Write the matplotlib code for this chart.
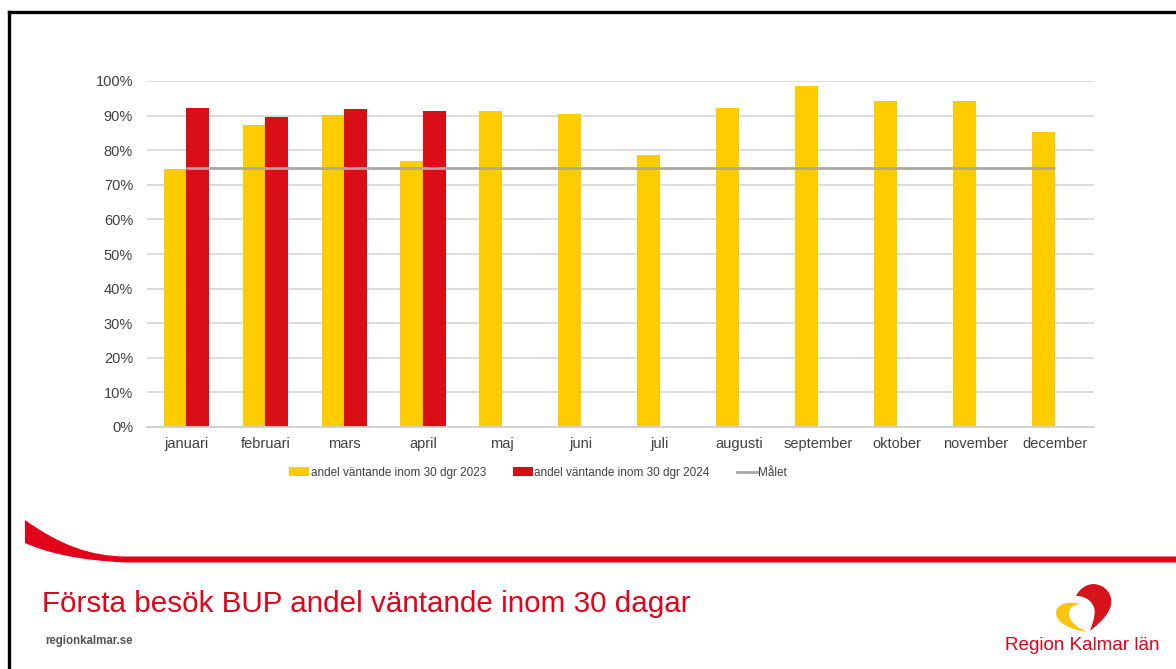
import matplotlib
matplotlib.use("Agg")
import matplotlib.pyplot as plt
import numpy as np
from matplotlib.patches import Patch, PathPatch
from matplotlib.lines import Line2D
from matplotlib.path import Path
from matplotlib.ticker import PercentFormatter

plt.rcParams['font.family'] = ['Liberation Sans', 'DejaVu Sans']

months = ["januari", "februari", "mars", "april", "maj", "juni", "juli",
          "augusti", "september", "oktober", "november", "december"]
andel_2023 = [74.5, 87.2, 90.2, 77.0, 91.3, 90.6, 78.7, 92.1, 98.6, 94.2, 94.2, 85.3]
andel_2024 = [92.3, 89.6, 91.9, 91.4]
malet = [75] * 12

label_2023 = "andel väntande inom 30 dgr 2023"
label_2024 = "andel väntande inom 30 dgr 2024"
label_malet = "Målet"
title = "Första besök BUP andel väntande inom 30 dagar"

YELLOW = "#FFCC00"
RED = "#DA0E17"
GRAY_LINE = "#AEA7A3"
GRID = "#D9D9D9"
TXT = "#404040"
BRAND_RED = "#E2001A"

W, H = 1176, 669
fig = plt.figure(figsize=(W / 100, H / 100), dpi=100)

def fx(px):
    return px / W

def fy(py):
    return 1 - py / H

def P(px, py):
    return (fx(px), fy(py))

ax = fig.add_axes([fx(147), fy(427), fx(1094) - fx(147), fy(81) - fy(427)])
x = np.arange(len(months))
bw = 0.288
ax.bar(x[:len(andel_2023)] - bw / 2, andel_2023, width=bw, color=YELLOW, zorder=2)
ax.bar(x[:len(andel_2024)] + bw / 2, andel_2024, width=bw, color=RED, zorder=2)
ax.plot(x, malet, color=GRAY_LINE, lw=2.0, zorder=3, solid_capstyle='butt')

ax.set_xlim(-0.5, len(months) - 0.5)
ax.set_ylim(0, 100)
ax.set_yticks(np.arange(0, 101, 10))
ax.yaxis.set_major_formatter(PercentFormatter(decimals=0))
ax.set_xticks(x)
ax.set_xticklabels(months)
ax.tick_params(axis='both', length=0, labelsize=10.5, colors=TXT)
ax.tick_params(axis='y', pad=10)
ax.tick_params(axis='x', pad=7)
ax.grid(axis='y', color=GRID, lw=1.3, zorder=0)
ax.set_axisbelow(True)
for s in ["top", "right", "left"]:
    ax.spines[s].set_visible(False)
ax.spines["bottom"].set_color("#D0D0D0")
ax.spines["bottom"].set_linewidth(1.3)

handles = [Patch(facecolor=YELLOW, edgecolor='none'),
           Patch(facecolor=RED, edgecolor='none'),
           Line2D([0], [0], color=GRAY_LINE, lw=2.0)]
leg = fig.legend(handles, [label_2023, label_2024, label_malet], loc='center',
                 bbox_to_anchor=(fx(538), fy(473)), ncol=3, frameon=False,
                 fontsize=8.5, handlelength=1.7, handleheight=0.8,
                 handletextpad=0.1, columnspacing=2.3)
for t in leg.get_texts():
    t.set_color(TXT)

# frame lines
fig.add_artist(Line2D([fx(8.5), 1], [fy(11.5), fy(11.5)], color='black', lw=2.4))
fig.add_artist(Line2D([fx(8.5), fx(8.5)], [fy(11.5), 0], color='black', lw=2.4))

# red swoosh
verts = [P(25, 520), P(60, 545), P(90, 556), P(125, 556.5),
         P(1176, 556.5), P(1176, 562.5), P(125, 562.5),
         P(75, 560), P(45, 552), P(25, 543), P(25, 520)]
codes = [Path.MOVETO, Path.CURVE4, Path.CURVE4, Path.CURVE4,
         Path.LINETO, Path.LINETO, Path.LINETO,
         Path.CURVE4, Path.CURVE4, Path.CURVE4, Path.CLOSEPOLY]
fig.add_artist(PathPatch(Path(verts, codes), facecolor=BRAND_RED, edgecolor='none',
                         transform=fig.transFigure))

fig.text(fx(42), fy(611.5), title, color=BRAND_RED, fontsize=21.3, va='baseline', ha='left')
fig.text(fx(45), fy(641), "regionkalmar.se", color="#555555", fontsize=8.3,
         va='center', ha='left', fontweight='bold')
fig.text(fx(1082.5), fy(645), "Region Kalmar län", color=BRAND_RED, fontsize=13.6,
         va='center', ha='center')

# logo: red comma-shaped half heart
red_v = [P(1076, 596),
         P(1080, 588), P(1087, 584), P(1094, 584),
         P(1106, 585), P(1113, 595), P(1111, 605),
         P(1108, 617), P(1097, 625), P(1090, 631),
         P(1093, 622), P(1097, 612), P(1093, 605),
         P(1089, 598), P(1082, 596), P(1076, 596),
         P(1076, 596)]
red_c = [Path.MOVETO] + [Path.CURVE4] * 15 + [Path.CLOSEPOLY]
fig.add_artist(PathPatch(Path(red_v, red_c), facecolor="#D7141C", edgecolor='none',
                         transform=fig.transFigure))
# yellow crescent
y_v = [P(1087, 632),
       P(1072, 630), P(1058, 624), P(1056, 614),
       P(1055, 605), P(1067, 600), P(1080, 604),
       P(1072, 605), P(1068, 609), P(1069, 615),
       P(1070, 622), P(1078, 628), P(1087, 632),
       P(1087, 632)]
y_c = [Path.MOVETO] + [Path.CURVE4] * 12 + [Path.CLOSEPOLY]
fig.add_artist(PathPatch(Path(y_v, y_c), facecolor="#FFC20E", edgecolor='none',
                         transform=fig.transFigure))

fig.savefig("out.png", dpi=100, facecolor='white')
